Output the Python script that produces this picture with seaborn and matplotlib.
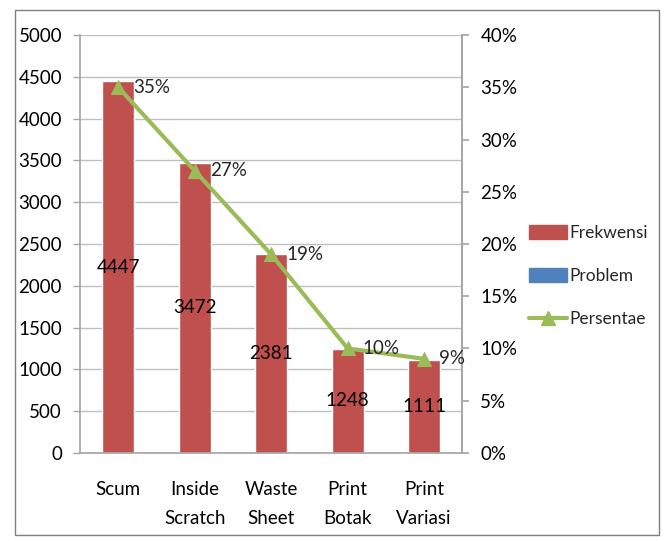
import pandas as pd
import seaborn as sns
import matplotlib.pyplot as plt
from matplotlib.patches import Patch, Rectangle
from matplotlib.lines import Line2D

categories = ["Scum", "Inside\nScratch", "Waste\nSheet", "Print\nBotak", "Print\nVariasi"]
frekwensi = [4447, 3472, 2381, 1248, 1111]
persentase = [35, 27, 19, 10, 9]

df = pd.DataFrame({"Kategori": categories, "Frekwensi": frekwensi, "Persentae": persentase})

sns.set_theme(style="white")
plt.rcParams["font.family"] = ["Lato", "DejaVu Sans"]

red = "#C0504D"
green = "#9BBB59"
blue = "#4F81BD"
grey = "#A6A6A6"
fs = 13.5

fig = plt.figure(figsize=(6.68, 5.41), dpi=100)
ax = fig.add_axes([0.12, 0.163, 0.572, 0.772])

sns.barplot(data=df, x="Kategori", y="Frekwensi", color=red, saturation=1,
            width=0.42, ax=ax)
ax.set_ylim(0, 5000)
ax.set_yticks(range(0, 5001, 500))
ax.set_xlim(-0.5, 4.5)
ax.yaxis.grid(True, color="#BFBFBF", linewidth=1)
ax.set_axisbelow(True)
ax.set_xlabel("")
ax.set_ylabel("")
ax.spines["top"].set_visible(False)
for s in ["left", "bottom", "right"]:
    ax.spines[s].set_color(grey)
ax.tick_params(axis="both", colors="black", labelsize=fs, length=5, width=1,
               direction="out")
ax.tick_params(axis="y", color=grey, pad=8)
ax.tick_params(axis="x", color=grey, pad=20, length=0)
for lbl in ax.get_xticklabels():
    lbl.set_linespacing(1.9)
# category separator ticks
ax.set_xticks([-0.5, 0.5, 1.5, 2.5, 3.5, 4.5], minor=True)
ax.tick_params(axis="x", which="minor", length=6, color=grey)

for i, v in enumerate(frekwensi):
    ax.text(i, v / 2, str(v), ha="center", va="center", fontsize=fs, color="black")

ax2 = ax.twinx()
sns.lineplot(data=df, x="Kategori", y="Persentae", color=green, linewidth=3,
             marker="^", markersize=10, markeredgecolor=green, ax=ax2)
ax2.set_ylim(0, 40)
ax2.set_yticks(range(0, 41, 5))
ax2.set_yticklabels([f"{t}%" for t in range(0, 41, 5)])
ax2.set_ylabel("")
for s in ["top", "left", "bottom"]:
    ax2.spines[s].set_visible(False)
ax2.spines["right"].set_color(grey)
ax2.tick_params(axis="y", colors="black", labelsize=fs, length=5, color=grey, pad=8)
for i, p in enumerate(persentase):
    ax2.text(i + 0.2, p, f"{p}%", ha="left", va="center", fontsize=fs)

handles = [Patch(color=red, label="Frekwensi"),
           Patch(color=blue, label="Problem"),
           Line2D([0], [0], color=green, lw=3, marker="^", markersize=10,
                  label="Persentae")]
fig.legend(handles=handles, loc="center left", bbox_to_anchor=(0.792, 0.49),
           frameon=False, fontsize=12.5, handlelength=2.2, handleheight=0.9,
           handletextpad=0.15, labelspacing=1.55, borderaxespad=0, borderpad=0)

fig.patches.append(Rectangle((0.022, 0.012), 0.965, 0.97, transform=fig.transFigure,
                             fill=False, edgecolor="#7F7F7F", linewidth=1))

fig.savefig("out.png", dpi=100, facecolor="white")
